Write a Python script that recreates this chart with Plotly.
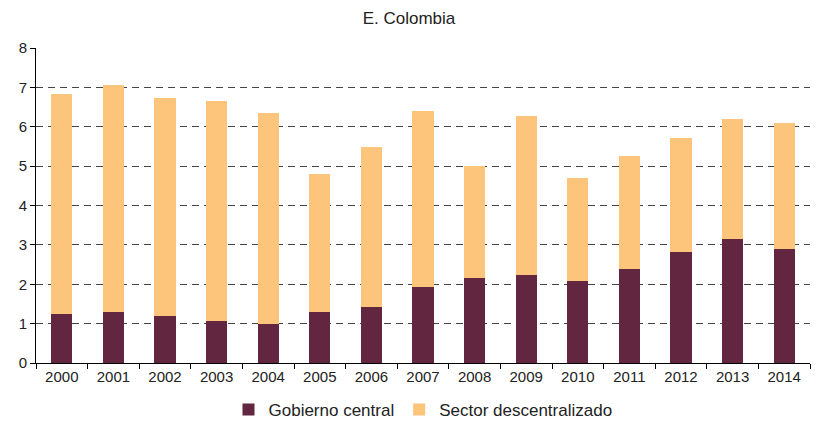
import plotly.graph_objects as go

years = ["2000", "2001", "2002", "2003", "2004", "2005", "2006", "2007",
         "2008", "2009", "2010", "2011", "2012", "2013", "2014"]
gobierno_central = [1.24, 1.29, 1.19, 1.07, 0.99, 1.29, 1.42, 1.93,
                    2.16, 2.23, 2.08, 2.39, 2.82, 3.15, 2.89]
total = [6.83, 7.06, 6.73, 6.65, 6.35, 4.80, 5.48, 6.40,
         5.00, 6.27, 4.70, 5.25, 5.71, 6.19, 6.09]
sector_descentralizado = [round(t - g, 2) for t, g in zip(total, gobierno_central)]

fig = go.Figure()
fig.add_trace(go.Bar(x=years, y=gobierno_central, name="Gobierno central",
                     marker=dict(color="#622641", line=dict(width=0))))
fig.add_trace(go.Bar(x=years, y=sector_descentralizado, name="Sector descentralizado",
                     marker=dict(color="#FDC47C", line=dict(width=0))))

fig.update_layout(
    barmode="stack",
    bargap=0.59,
    width=818, height=421,
    margin=dict(l=36, r=8, t=48, b=58, autoexpand=False),
    paper_bgcolor="white", plot_bgcolor="white",
    font=dict(family="Liberation Sans, Arial, sans-serif", size=15, color="#222"),
    title=dict(text="E. Colombia", x=0.5, xanchor="center", y=0.957, yanchor="middle",
               font=dict(size=17, color="#222")),
    legend=dict(orientation="h", x=0.5, xanchor="center", yref="container",
                y=0.026, yanchor="middle",
                font=dict(size=17), traceorder="normal", itemwidth=30),
    xaxis=dict(showline=True, linecolor="black", linewidth=1, ticks="outside",
               tickson="boundaries", ticklen=5, tickcolor="black", showgrid=False,
               tickfont=dict(size=15)),
    yaxis=dict(range=[0, 8], dtick=1, showline=True, linecolor="black", linewidth=1,
               ticks="outside", ticklen=5, tickcolor="black", showgrid=True,
               gridcolor="#444", griddash="7px,5px", gridwidth=1, zeroline=False,
               tickfont=dict(size=15)),
)

fig.write_html("out.html", config={"displayModeBar": False},
               post_script="document.body.style.margin='0';document.body.style.overflow='hidden';")
